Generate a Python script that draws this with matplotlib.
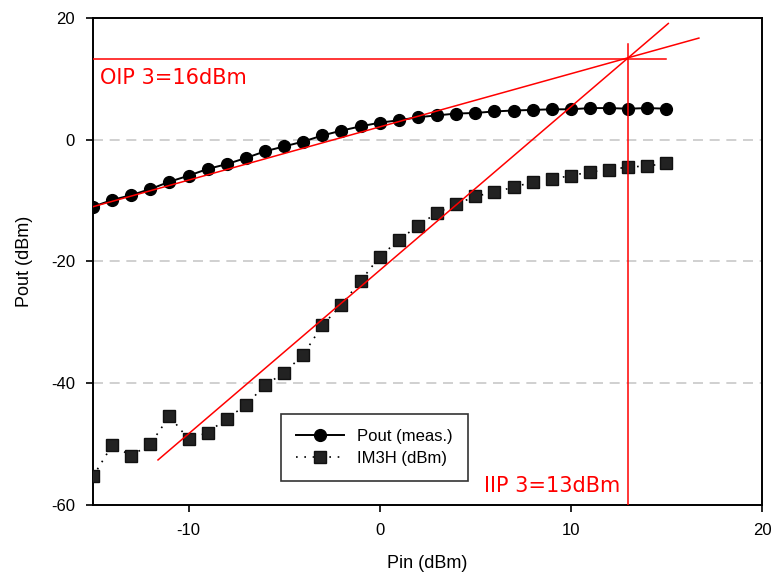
import matplotlib.pyplot as plt

# input power sweep, dBm
pin = list(range(-15, 16))

pout = [-11.0, -9.9, -9.1, -8.1, -6.9, -5.9, -4.8, -4.0, -3.0, -1.9,
        -1.1, -0.3, 0.7, 1.5, 2.2, 2.8, 3.2, 3.7, 4.0, 4.3,
        4.4, 4.65, 4.8, 4.9, 5.0, 5.0, 5.2, 5.2, 5.1, 5.2, 5.1]

im3h = [-55.3, -50.2, -51.9, -50.0, -45.4, -49.2, -48.1, -45.8, -43.6, -40.3,
        -38.3, -35.3, -30.5, -27.1, -23.2, -19.2, -16.5, -14.1, -12.0, -10.6,
        -9.3, -8.6, -7.8, -6.95, -6.45, -5.9, -5.3, -4.9, -4.5, -4.3, -3.9]

# extrapolated red lines (end points)
fund_x = [-15.0, 16.7]
fund_y = [-11.0, 16.7]
im3_x = [-11.6, 15.1]
im3_y = [-52.6, 19.1]
ip_x = 13.0
ip_y = 13.3

plt.rcParams['font.family'] = ['Liberation Sans', 'DejaVu Sans']
plt.rcParams['axes.unicode_minus'] = False

fig = plt.figure(figsize=(7.72, 5.88), dpi=100)
ax = fig.add_axes([0.1205, 0.1412, 0.8665, 0.8282])

for g in [0, -20, -40]:
    ax.axhline(g, color='#c8c8c8', lw=1.2, ls=(0, (6, 4)), zorder=0)

ax.plot(pin, pout, color='black', lw=1.4, marker='o', ms=8.5,
        label='Pout (meas.)', zorder=3)
ax.plot(pin, im3h, color='black', lw=1.2, ls=(0, (1, 4)), marker='s', ms=9,
        markerfacecolor='#222222', markeredgecolor='#111111',
        label='IM3H (dBm)', zorder=3)

red = '#ff0000'
ax.plot(fund_x, fund_y, color=red, lw=1.1, zorder=4)
ax.plot(im3_x, im3_y, color=red, lw=1.1, zorder=4)
ax.plot([-15, 15], [ip_y, ip_y], color=red, lw=1.1, zorder=4)
ax.plot([ip_x, ip_x], [-60, 15.7], color=red, lw=1.1, zorder=4)

ax.text(-14.65, 10.1, 'OIP 3=16dBm', color=red, fontsize=15, va='center',
        family=['DejaVu Sans'])
ax.text(12.6, -56.9, 'IIP 3=13dBm', color=red, fontsize=15, ha='right',
        va='center', family=['DejaVu Sans'])

ax.set_xlim(-15, 20)
ax.set_ylim(-60, 20)
ax.set_xticks([-10, 0, 10, 20])
ax.set_yticks([-60, -40, -20, 0, 20])
ax.tick_params(direction='out', length=5, width=1.2, labelsize=12, pad=8)
for s in ax.spines.values():
    s.set_linewidth(1.4)

ax.set_xlabel('Pin (dBm)', fontsize=13, labelpad=12)
ax.set_ylabel('Pout (dBm)', fontsize=13, labelpad=13)

leg = ax.legend(loc='lower left', bbox_to_anchor=(0.268, 0.033), fontsize=12,
                frameon=True, fancybox=False, edgecolor='black',
                handlelength=2.9, borderpad=0.9, labelspacing=0.4)
leg.get_frame().set_linewidth(1.2)

fig.savefig('out.png', dpi=100)
